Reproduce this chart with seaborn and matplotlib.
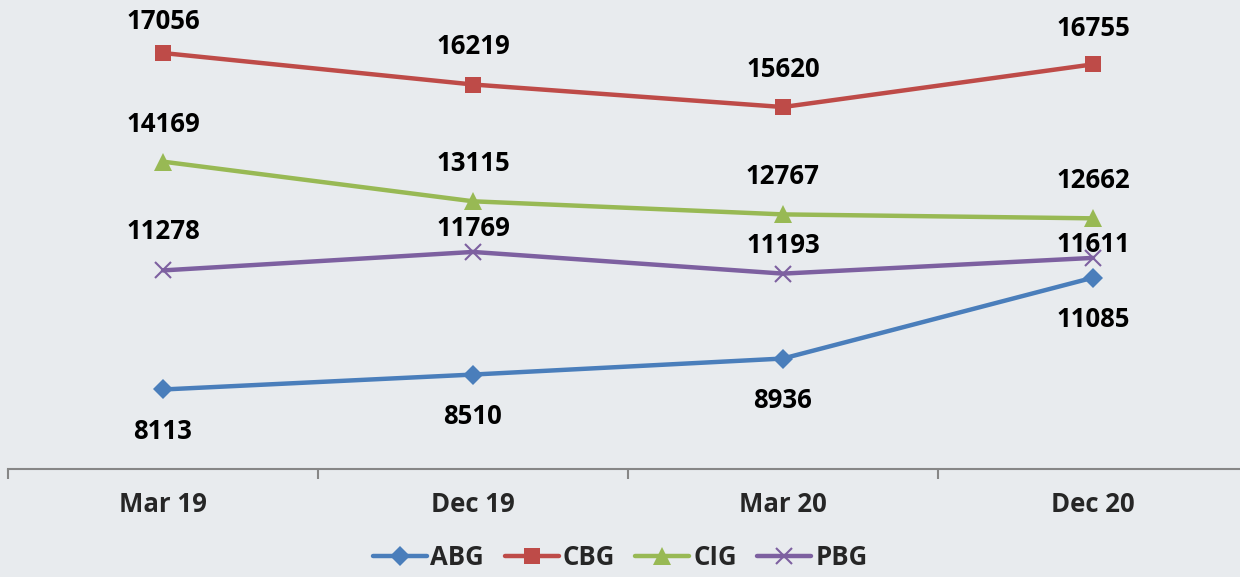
import matplotlib
matplotlib.use("Agg")
import matplotlib.pyplot as plt
import seaborn as sns
import pandas as pd

quarters = ["Mar 19", "Dec 19", "Mar 20", "Dec 20"]
abg = [8113, 8510, 8936, 11085]
cbg = [17056, 16219, 15620, 16755]
cig = [14169, 13115, 12767, 12662]
pbg = [11278, 11769, 11193, 11611]

sns.set_theme(style="white")
plt.rcParams["font.family"] = ["Open Sans", "DejaVu Sans"]
plt.rcParams["font.weight"] = "bold"

bg = "#e8ebee"
fig = plt.figure(figsize=(12.4, 5.77), dpi=100, facecolor=bg)
ax = fig.add_axes([8 / 1240, 108 / 577, 1232 / 1240, 451.5 / 577])
ax.set_facecolor(bg)

# name, values, colour, marker, marker size, label offset (px, + = up)
series = [
    ("ABG", abg, "#4a7ebb", "D", 10, [-42, -42, -42, -42]),
    ("CBG", cbg, "#be4b48", "s", 12, [32, 38, 38, 36]),
    ("CIG", cig, "#98b954", "^", 13, [37, 38, 38, 38]),
    ("PBG", pbg, "#7d60a0", "x", 11, [39, 23, 28, 13]),
]

for name, vals, col, mk, ms, offs in series:
    df = pd.DataFrame({"q": quarters, "v": vals})
    sns.lineplot(data=df, x="q", y="v", ax=ax, color=col, lw=3.2, marker=mk,
                 markersize=ms, markeredgecolor=col, markeredgewidth=1.5 if mk == "x" else 0,
                 label=name, sort=False)
    for i, v in enumerate(vals):
        ax.annotate(str(v), (i, v), xytext=(0, offs[i] * 0.72), textcoords="offset points",
                    ha="center", va="center", fontsize=18.5, fontweight="bold", color="black")

ax.set_xlim(-0.5, 3.5 - 8 / 310)
ax.set_ylim(6000, 18000)
ax.set_xlabel("")
ax.set_ylabel("")
ax.set_yticks([])
for s in ["top", "right", "left"]:
    ax.spines[s].set_visible(False)
ax.spines["bottom"].set_color("#868686")
ax.spines["bottom"].set_linewidth(1.5)
ax.set_xticks(range(4))
ax.set_xticklabels(quarters, fontsize=18.5, fontweight="bold")
ax.set_xticks([-0.5, 0.5, 1.5, 2.5], minor=True)
ax.tick_params(axis="x", which="major", length=0, pad=16)
ax.tick_params(axis="x", which="minor", length=7, width=1.5, color="#868686", bottom=True)

ax.legend(loc="lower center", bbox_to_anchor=(0.5, -0.03), bbox_transform=fig.transFigure,
          ncol=4, frameon=False, prop={"size": 18.5, "weight": "bold"},
          handlelength=2.1, columnspacing=0.8, handletextpad=0.15)

fig.savefig("out.png", dpi=100, facecolor=bg)
